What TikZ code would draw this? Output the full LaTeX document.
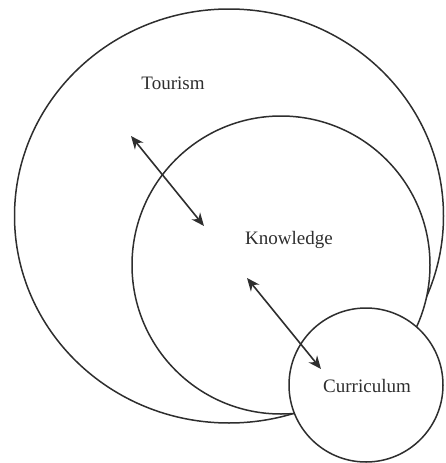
\documentclass[tikz,border=0pt]{standalone}
\usepackage{fontspec}
\setmainfont{Liberation Serif}
\usetikzlibrary{shapes.geometric,arrows.meta}
\definecolor{ink}{HTML}{2E2E2E}
\begin{document}
\begin{tikzpicture}[x=1pt,y=-1pt,
  ring/.style={draw=ink,line width=1.5pt,fill=white,inner sep=0pt},
  lbl/.style={text=ink,font=\fontsize{19}{22}\selectfont,inner sep=0pt},
  link/.style={draw=ink,line width=1.6pt,{Stealth[length=13pt,width=11pt]}-{Stealth[length=13pt,width=11pt]}}]
\useasboundingbox (0,0) rectangle (445,463);
\node[ring,ellipse,minimum width=429pt,minimum height=414pt] (tour) at (229,216) {};
\node[ring,circle,minimum size=298pt] (know) at (281,265) {};
\node[ring,circle,minimum size=154pt] (curr) at (366,385) {};
\node[lbl] (tl) at (173,83) {Tourism};
\node[lbl] (kl) at (289,240) {Knowledge};
\node[lbl] (cl) at (367,386) {Curriculum};
\coordinate (a1) at (131,136);
\coordinate (a2) at (204,226);
\coordinate (b1) at (247,278);
\coordinate (b2) at (321,369);
\draw[link] (a1) -- (a2);
\draw[link] (b1) -- (b2);
\end{tikzpicture}
\end{document}
